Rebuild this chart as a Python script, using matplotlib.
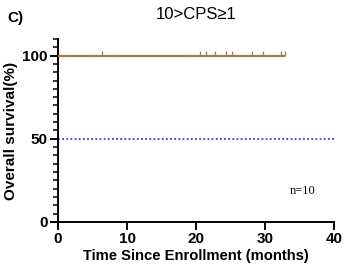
import matplotlib.pyplot as plt
import numpy as np
from matplotlib.ticker import MultipleLocator

# censored follow-up times (months), all patients alive
censor_times = [6.4, 20.6, 21.4, 22.7, 24.4, 25.2, 28.1, 29.7, 32.3, 32.9]
survival = [100] * len(censor_times)
median_line = 50

plt.rcParams['font.family'] = ['Liberation Sans', 'DejaVu Sans']

fig = plt.figure(figsize=(3.44, 2.76), dpi=100)
ax = fig.add_axes([0.1686, 0.1957, 0.8024, 0.6633])

brown = "#9e7b55"
ax.step([0] + censor_times, [100] + survival, where="post", color=brown, lw=1.6,
        solid_capstyle="butt", zorder=3)
ax.plot(censor_times, survival, linestyle="none", marker=2, markersize=3.5,
        markeredgewidth=0.9, color=brown, zorder=3)
ax.plot([0, 40], [median_line, median_line], color="#3a3ad0", lw=1.3,
        linestyle=(0, (1, 1.3)), zorder=2)

ax.set_xlim(0, 40)
ax.set_ylim(0, 110)
ax.set_xticks([0, 10, 20, 30, 40])
ax.set_yticks([0, 50, 100])
ax.yaxis.set_minor_locator(MultipleLocator(5))

for s in ["top", "right"]:
    ax.spines[s].set_visible(False)
for s in ["left", "bottom"]:
    ax.spines[s].set_linewidth(1.4)
    ax.spines[s].set_color("black")

ax.tick_params(which="major", length=5.5, width=1.4, labelsize=11, pad=2)
ax.tick_params(which="minor", length=3.5, width=1.1)
for lab in ax.get_xticklabels() + ax.get_yticklabels():
    lab.set_fontweight("bold")

ax.set_xlabel("Time Since Enrollment (months)", fontsize=10.6, fontweight="bold",
              labelpad=2)
ax.set_ylabel("Overall survival(%)", fontsize=11, fontweight="bold", labelpad=3)
ax.set_title("10>CPS\u22651", fontsize=12, pad=14)

ax.text(35.4, 18.5, "n=10", family="Liberation Serif", fontsize=9,
        ha="center", va="center")
fig.text(0.02, 0.96, "C)", fontsize=11, fontweight="bold", va="top")

fig.savefig("out.png", dpi=100)
